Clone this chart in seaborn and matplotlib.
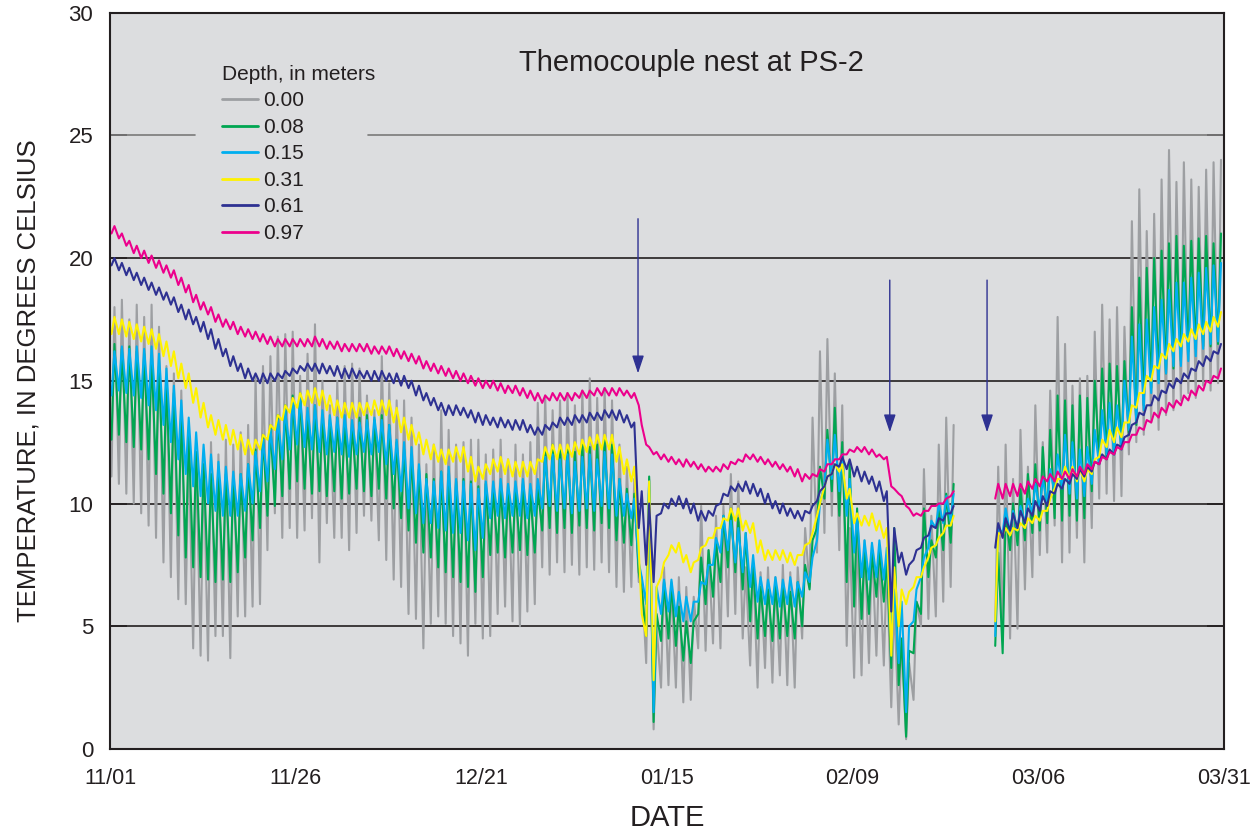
import numpy as np
import pandas as pd
import matplotlib
matplotlib.use("Agg")
import matplotlib.pyplot as plt
import seaborn as sns

nan = np.nan

# Daily minimum (early) and maximum (afternoon) temperatures, deg C,
# one value per day from 11/01 (day 0); NaN = no record.
gray_lo = [
    11.1, 10.8, 10.4, 10.0, 9.6, 9.1, 8.6, 7.6, 7.0, 6.1,
    5.9, 4.1, 3.8, 3.6, 4.6, 4.6, 3.7, 5.4, 5.4, 5.8,
    5.9, 8.1, 9.6, 8.6, 9.0, 8.6, 8.9, 9.4, 7.6, 9.2,
    8.6, 8.6, 8.1, 8.8, 9.5, 9.3, 8.5, 7.7, 6.9, 6.6,
    5.5, 5.3, 4.1, 5.1, 5.4, 5.1, 4.6, 4.3, 3.8, 5.1,
    4.5, 4.6, 5.5, 5.8, 5.2, 5.0, 5.6, 5.9, 7.4, 7.1,
    7.6, 7.2, 7.5, 7.1, 7.4, 7.3, 7.6, 7.2, 6.6, 6.4,
    6.6, 6.8, 3.5, 0.8, 2.5, 2.6, 2.5, 1.9, 2.0, 4.1,
    4.0, 4.3, 4.1, 5.4, 5.5, 4.5, 3.4, 2.5, 3.3, 2.7,
    3.0, 2.6, 2.5, 4.5, 6.6, 8.0, 8.8, 9.5, 8.1, 4.2,
    2.9, 3.0, 3.5, 3.8, 3.4, 1.7, 1.0, 0.4, 2.0, 5.0,
    5.3, 5.4, 6.0, 6.6, nan, nan, nan, nan, nan, 5.0,
    4.8, 4.5, 4.9, 6.5, 7.0, 7.9, 8.0, 9.1, 7.6, 8.0,
    8.6, 7.6, 9.0, 10.2, 10.4, 10.1, 10.3, 12.0, 12.5, 12.8,
    13.3, 13.0, 13.6, 13.8, 14.2, 14.5, 14.3, 14.8, 14.6, 14.9,
]
gray_hi = [
    18.0, 18.3, 17.5, 18.1, 17.6, 18.1, 17.2, 15.6, 15.3, 14.6,
    12.4, 12.1, 11.9, 12.5, 12.0, 12.6, 12.4, 12.9, 13.2, 15.2,
    15.6, 16.0, 16.8, 16.9, 17.0, 15.2, 16.1, 17.3, 15.0, 14.0,
    15.0, 15.6, 15.7, 15.5, 14.4, 13.8, 16.0, 14.9, 14.2, 14.2,
    13.5, 12.4, 11.6, 12.4, 13.8, 13.0, 12.4, 12.5, 12.6, 12.6,
    12.0, 12.2, 12.6, 11.8, 12.4, 12.0, 12.5, 14.1, 14.4, 13.8,
    14.2, 14.5, 14.0, 14.6, 15.1, 14.3, 14.7, 14.2, 12.4, 11.5,
    11.0, 7.0, 11.0, 5.0, 7.4, 6.8, 7.0, 6.6, 6.2, 9.9,
    8.1, 9.5, 9.9, 11.2, 10.9, 7.4, 7.6, 7.2, 7.4, 7.0,
    7.5, 7.2, 7.4, 9.0, 13.5, 16.2, 16.7, 15.3, 14.0, 9.0,
    8.8, 8.5, 8.3, 8.0, 7.6, 6.0, 4.5, 3.5, 6.0, 11.4,
    9.5, 12.4, 13.5, 13.2, nan, nan, nan, nan, nan, 11.5,
    12.4, 11.0, 13.0, 11.5, 14.0, 12.5, 14.6, 17.6, 16.5, 14.8,
    15.1, 15.2, 17.0, 18.1, 17.5, 18.0, 17.2, 21.5, 22.8, 21.1,
    21.8, 23.2, 24.4, 23.1, 23.9, 23.2, 22.9, 23.6, 23.9, 24.0,
]
green_lo = [
    12.6, 12.8, 12.5, 12.3, 12.2, 11.8, 11.2, 10.4, 9.6, 8.7,
    7.8, 7.4, 7.0, 6.9, 6.8, 6.9, 6.8, 7.2, 7.8, 8.5,
    9.0, 9.5, 9.9, 10.3, 10.6, 10.9, 10.6, 10.4, 10.5, 10.3,
    10.5, 10.2, 10.4, 10.6, 10.5, 10.3, 10.6, 10.2, 9.8, 9.4,
    8.9, 8.4, 8.0, 7.8, 7.4, 7.2, 7.0, 6.8, 6.6, 6.4,
    7.0, 7.9, 8.0, 7.8, 8.0, 8.1, 7.9, 8.0, 8.9, 9.0,
    8.8, 9.0, 8.8, 9.1, 9.0, 8.9, 9.2, 9.0, 8.5, 8.4,
    8.3, 7.2, 4.6, 1.1, 4.4, 4.5, 4.2, 3.6, 3.5, 5.5,
    5.9, 6.2, 6.8, 7.4, 7.2, 6.5, 5.2, 4.5, 4.6, 4.4,
    4.5, 4.6, 4.5, 5.0, 6.5, 9.0, 10.2, 10.5, 9.5, 6.8,
    5.8, 5.3, 5.5, 6.2, 6.0, 3.3, 2.6, 0.5, 3.9, 5.5,
    7.0, 7.8, 8.1, 8.4, nan, nan, nan, nan, nan, 4.2,
    3.9, 8.1, 8.3, 8.5, 8.8, 8.9, 9.2, 9.4, 9.3, 9.5,
    9.3, 9.4, 10.5, 11.8, 11.9, 12.0, 12.2, 12.8, 13.2, 14.0,
    14.7, 15.0, 15.3, 15.5, 15.8, 16.2, 16.3, 16.4, 16.4, 16.5,
]
green_hi = [
    16.5, 16.3, 16.4, 16.2, 16.1, 16.0, 15.6, 15.0, 14.5, 13.6,
    12.8, 12.1, 11.6, 11.2, 11.1, 11.2, 11.0, 11.2, 11.6, 12.2,
    12.8, 13.2, 13.6, 14.0, 14.4, 14.5, 13.5, 14.0, 13.6, 13.4,
    13.5, 13.3, 13.2, 13.5, 13.6, 13.4, 13.6, 13.2, 12.5, 12.2,
    12.0, 11.4, 11.2, 11.0, 11.3, 11.2, 10.9, 11.0, 10.9, 10.7,
    10.8, 10.6, 10.7, 10.5, 10.6, 10.8, 10.4, 10.6, 12.2, 12.4,
    12.2, 12.3, 12.1, 12.4, 12.3, 12.4, 12.6, 12.4, 11.0, 10.6,
    10.4, 6.5, 11.1, 5.5, 6.8, 6.7, 5.8, 5.2, 5.2, 7.8,
    8.1, 8.4, 9.5, 9.8, 9.4, 8.8, 7.5, 6.6, 6.5, 6.7,
    6.6, 6.4, 6.8, 7.5, 8.5, 11.5, 13.0, 13.9, 12.5, 11.7,
    9.8, 8.1, 8.0, 8.1, 7.8, 9.0, 4.5, 4.0, 6.0, 9.8,
    8.5, 9.8, 10.4, 10.8, nan, nan, nan, nan, nan, 8.0,
    9.5, 10.0, 10.6, 11.2, 11.6, 12.3, 13.0, 14.4, 14.2, 14.0,
    14.4, 14.3, 15.0, 15.5, 15.7, 15.6, 15.8, 18.0, 19.2, 19.6,
    20.0, 20.3, 20.6, 20.9, 20.5, 20.7, 20.8, 20.9, 20.6, 21.0,
]
cyan_lo = [
    14.4, 14.6, 14.5, 14.4, 14.3, 14.0, 13.8, 13.2, 12.5, 11.8,
    11.2, 10.7, 10.3, 10.0, 9.7, 9.5, 9.5, 9.5, 9.7, 10.0,
    10.5, 10.9, 11.4, 11.8, 12.2, 12.4, 12.3, 12.2, 12.1, 12.0,
    12.1, 12.0, 11.9, 12.0, 12.1, 12.0, 12.1, 11.6, 11.2, 10.5,
    9.8, 9.6, 9.2, 9.2, 9.0, 8.9, 8.8, 8.8, 8.5, 8.1,
    8.6, 9.4, 9.5, 9.4, 9.5, 9.5, 9.4, 9.5, 9.8, 9.9,
    9.7, 9.8, 9.6, 9.7, 9.8, 9.7, 9.9, 9.8, 9.5, 9.5,
    9.4, 7.6, 5.9, 1.5, 5.5, 5.6, 5.4, 5.2, 5.2, 6.0,
    6.7, 7.5, 8.0, 8.1, 7.6, 7.2, 6.6, 6.0, 5.9, 5.9,
    5.8, 5.9, 5.8, 6.2, 6.8, 8.5, 10.8, 11.0, 10.5, 9.5,
    8.0, 7.0, 6.9, 7.0, 6.9, 4.5, 3.5, 1.5, 5.2, 7.0,
    8.2, 9.0, 9.2, 9.3, nan, nan, nan, nan, nan, 4.6,
    8.8, 8.8, 8.9, 9.2, 9.6, 9.8, 10.0, 10.4, 10.6, 10.4,
    10.2, 10.3, 10.8, 11.6, 12.0, 12.0, 12.2, 13.0, 13.3, 13.8,
    14.5, 14.9, 15.3, 15.6, 15.6, 15.8, 16.0, 16.3, 16.5, 16.6,
]
cyan_hi = [
    16.2, 16.4, 16.3, 16.4, 16.3, 16.4, 16.1, 15.5, 14.8, 14.2,
    13.5, 12.9, 12.4, 12.0, 11.7, 11.5, 11.3, 11.2, 11.6, 12.1,
    12.6, 13.0, 13.4, 13.8, 14.2, 14.3, 13.9, 14.0, 13.8, 13.6,
    13.5, 13.6, 13.4, 13.3, 13.4, 13.5, 13.4, 13.2, 12.6, 12.5,
    12.3, 11.6, 11.0, 10.9, 11.3, 11.5, 11.0, 10.9, 10.8, 10.6,
    10.9, 10.9, 11.0, 10.8, 10.9, 11.0, 10.8, 11.0, 11.9, 12.0,
    11.8, 12.0, 11.7, 11.9, 12.0, 11.8, 12.1, 12.0, 11.0, 10.4,
    10.2, 7.0, 10.9, 6.6, 6.9, 6.9, 6.4, 6.2, 6.0, 6.8,
    7.5, 8.6, 9.5, 9.3, 9.0, 8.8, 7.9, 7.0, 6.9, 7.0,
    6.9, 7.0, 6.8, 7.2, 7.8, 10.0, 12.6, 12.8, 12.0, 11.0,
    9.5, 8.5, 8.4, 8.5, 8.2, 6.5, 6.0, 5.0, 6.5, 7.8,
    9.3, 10.0, 10.3, 10.4, nan, nan, nan, nan, nan, 9.0,
    9.8, 9.7, 9.9, 10.2, 10.8, 11.0, 11.4, 12.0, 12.8, 12.5,
    12.2, 12.3, 13.0, 13.8, 14.1, 14.0, 15.0, 16.8, 17.3, 17.5,
    18.0, 18.3, 18.7, 19.0, 19.0, 19.2, 19.4, 19.6, 19.7, 19.8,
]
yellow_lo = [
    16.9, 16.9, 16.8, 16.7, 16.6, 16.5, 16.3, 16.0, 15.6, 15.1,
    14.7, 14.1, 13.5, 13.1, 12.8, 12.6, 12.4, 12.2, 12.0, 12.0,
    12.2, 12.6, 13.0, 13.4, 13.7, 13.9, 14.0, 14.1, 14.0, 13.8,
    13.6, 13.5, 13.5, 13.5, 13.6, 13.6, 13.6, 13.6, 13.3, 12.9,
    12.6, 12.4, 12.0, 11.8, 11.7, 11.6, 11.7, 11.7, 11.3, 10.9,
    11.0, 11.2, 11.3, 11.2, 11.1, 11.1, 11.1, 11.2, 11.7, 11.8,
    11.8, 11.8, 11.9, 12.0, 12.1, 12.2, 12.2, 12.2, 11.7, 11.2,
    10.9, 8.1, 4.6, 2.8, 7.0, 7.9, 8.0, 7.6, 7.2, 7.7,
    8.3, 8.6, 9.0, 9.3, 9.3, 8.9, 8.8, 8.0, 7.7, 7.7,
    7.7, 7.6, 7.5, 7.9, 8.4, 9.5, 10.7, 11.2, 11.3, 10.2,
    9.2, 9.1, 9.1, 8.9, 8.6, 3.8, 5.0, 5.9, 6.6, 7.0,
    7.8, 8.3, 8.8, 9.1, nan, nan, nan, nan, nan, 5.2,
    8.7, 8.7, 8.9, 9.0, 9.2, 9.3, 9.7, 10.6, 11.0, 11.0,
    10.9, 10.9, 11.2, 11.9, 12.3, 12.5, 12.7, 13.3, 13.9, 14.5,
    15.0, 15.5, 15.9, 16.2, 16.4, 16.6, 16.7, 16.9, 17.0, 17.2,
]
yellow_hi = [
    17.6, 17.5, 17.4, 17.3, 17.2, 17.1, 16.9, 16.6, 16.2, 15.7,
    15.3, 14.7, 14.1, 13.6, 13.4, 13.2, 13.0, 12.8, 12.6, 12.6,
    12.8, 13.2, 13.6, 14.0, 14.3, 14.5, 14.6, 14.7, 14.6, 14.4,
    14.2, 14.1, 14.1, 14.1, 14.1, 14.2, 14.2, 14.2, 13.9, 13.5,
    13.2, 12.9, 12.6, 12.4, 12.2, 12.2, 12.3, 12.3, 11.9, 11.5,
    11.6, 11.8, 11.9, 11.8, 11.7, 11.7, 11.7, 11.8, 12.3, 12.4,
    12.4, 12.4, 12.5, 12.6, 12.7, 12.8, 12.8, 12.8, 12.3, 11.8,
    11.5, 5.5, 10.9, 6.6, 7.6, 8.3, 8.4, 7.9, 7.6, 8.2,
    8.6, 9.0, 9.4, 9.8, 9.8, 9.3, 9.2, 8.5, 8.1, 8.1,
    8.1, 8.0, 7.9, 8.3, 8.8, 10.0, 11.1, 11.6, 11.6, 10.6,
    9.6, 9.5, 9.6, 9.3, 9.0, 7.4, 6.5, 6.4, 7.0, 7.4,
    8.2, 8.6, 9.1, 9.5, nan, nan, nan, nan, nan, 8.8,
    9.0, 9.0, 9.2, 9.4, 9.5, 9.7, 10.2, 11.0, 11.5, 11.5,
    11.4, 11.4, 11.8, 12.6, 13.0, 13.1, 13.3, 14.0, 14.5, 15.2,
    15.6, 16.1, 16.5, 16.7, 16.9, 17.1, 17.3, 17.4, 17.6, 17.8,
]
navy_lo = [
    19.7, 19.5, 19.3, 19.1, 18.9, 18.7, 18.5, 18.3, 18.1, 17.8,
    17.5, 17.3, 17.0, 16.7, 16.3, 16.0, 15.6, 15.4, 15.1, 15.0,
    14.9, 14.9, 15.0, 15.1, 15.2, 15.3, 15.4, 15.4, 15.3, 15.3,
    15.2, 15.1, 15.1, 15.1, 15.1, 15.0, 15.0, 15.0, 14.9, 14.8,
    14.7, 14.4, 14.2, 14.0, 13.8, 13.6, 13.6, 13.6, 13.5, 13.3,
    13.2, 13.2, 13.1, 13.1, 13.0, 13.0, 12.9, 12.8, 12.8, 13.0,
    13.1, 13.2, 13.2, 13.3, 13.3, 13.4, 13.4, 13.5, 13.4, 13.3,
    13.1, 9.0, 7.5, 6.8, 9.6, 9.8, 9.9, 9.8, 9.6, 9.3,
    9.3, 9.5, 10.0, 10.3, 10.5, 10.5, 10.4, 10.3, 10.0, 9.8,
    9.6, 9.5, 9.4, 9.3, 9.6, 10.1, 10.7, 11.2, 11.5, 11.4,
    11.1, 10.9, 10.8, 10.5, 10.1, 5.6, 7.6, 7.1, 7.7, 8.2,
    8.7, 9.0, 9.3, 9.6, nan, nan, nan, nan, nan, 8.2,
    8.6, 8.9, 9.0, 9.2, 9.5, 9.7, 9.9, 10.4, 10.6, 10.8,
    11.0, 11.1, 11.3, 11.6, 11.8, 12.0, 12.3, 12.8, 13.3, 13.6,
    14.0, 14.2, 14.5, 14.7, 14.9, 15.1, 15.4, 15.6, 15.8, 16.1,
]
navy_hi = [
    20.0, 19.8, 19.6, 19.4, 19.2, 19.0, 18.8, 18.6, 18.4, 18.1,
    17.9, 17.6, 17.4, 17.1, 16.7, 16.3, 16.0, 15.7, 15.5, 15.3,
    15.3, 15.3, 15.3, 15.4, 15.5, 15.6, 15.7, 15.7, 15.7, 15.6,
    15.6, 15.5, 15.5, 15.4, 15.4, 15.4, 15.4, 15.3, 15.3, 15.2,
    15.0, 14.8, 14.5, 14.3, 14.1, 14.0, 14.0, 13.9, 13.8, 13.7,
    13.6, 13.5, 13.5, 13.4, 13.4, 13.4, 13.2, 13.1, 13.2, 13.3,
    13.5, 13.5, 13.6, 13.6, 13.7, 13.7, 13.8, 13.8, 13.8, 13.6,
    13.3, 10.5, 10.0, 9.5, 10.0, 10.2, 10.3, 10.2, 10.0, 9.7,
    9.7, 9.9, 10.4, 10.7, 10.8, 10.9, 10.8, 10.6, 10.4, 10.1,
    10.0, 9.8, 9.7, 9.7, 9.9, 10.5, 11.1, 11.6, 11.9, 11.8,
    11.5, 11.3, 11.1, 10.9, 10.5, 9.0, 8.0, 7.5, 8.1, 8.6,
    9.1, 9.4, 9.6, 9.9, nan, nan, nan, nan, nan, 9.2,
    9.4, 9.6, 9.7, 9.8, 10.1, 10.3, 10.5, 10.8, 11.0, 11.2,
    11.4, 11.5, 11.7, 12.0, 12.2, 12.4, 12.7, 13.2, 13.7, 14.0,
    14.4, 14.6, 14.9, 15.1, 15.3, 15.5, 15.8, 16.0, 16.2, 16.5,
]
pink_lo = [
    21.0, 20.8, 20.5, 20.2, 20.0, 19.8, 19.6, 19.4, 19.2, 18.9,
    18.6, 18.2, 17.9, 17.7, 17.4, 17.2, 17.1, 16.9, 16.8, 16.7,
    16.6, 16.5, 16.4, 16.4, 16.4, 16.4, 16.4, 16.4, 16.4, 16.3,
    16.3, 16.2, 16.2, 16.2, 16.2, 16.1, 16.1, 16.1, 16.0, 15.9,
    15.8, 15.7, 15.5, 15.4, 15.3, 15.2, 15.1, 15.0, 14.9, 14.8,
    14.7, 14.7, 14.6, 14.5, 14.5, 14.4, 14.3, 14.2, 14.1, 14.2,
    14.2, 14.2, 14.2, 14.3, 14.3, 14.4, 14.4, 14.4, 14.4, 14.4,
    14.3, 14.0, 12.4, 12.0, 11.8, 11.7, 11.6, 11.5, 11.5, 11.4,
    11.3, 11.3, 11.3, 11.4, 11.6, 11.7, 11.8, 11.7, 11.6, 11.5,
    11.4, 11.3, 11.1, 10.9, 11.0, 11.1, 11.3, 11.6, 11.8, 12.0,
    12.1, 12.1, 12.0, 11.9, 11.8, 10.7, 10.4, 9.9, 9.5, 9.5,
    9.7, 9.9, 10.0, 10.3, nan, nan, nan, nan, nan, 10.2,
    10.2, 10.3, 10.3, 10.4, 10.6, 10.7, 10.9, 10.9, 11.0, 11.0,
    11.1, 11.2, 11.4, 11.6, 11.8, 12.0, 12.2, 12.5, 12.8, 13.0,
    13.3, 13.5, 13.7, 13.9, 14.0, 14.2, 14.4, 14.6, 14.9, 15.1,
]
pink_hi = [
    21.3, 21.0, 20.7, 20.5, 20.3, 20.1, 19.9, 19.7, 19.5, 19.2,
    18.9, 18.5, 18.2, 18.0, 17.7, 17.5, 17.4, 17.2, 17.1, 17.0,
    16.9, 16.8, 16.7, 16.7, 16.7, 16.7, 16.7, 16.8, 16.7, 16.6,
    16.6, 16.5, 16.5, 16.5, 16.5, 16.4, 16.4, 16.4, 16.3, 16.2,
    16.1, 16.0, 15.8, 15.7, 15.6, 15.5, 15.4, 15.3, 15.2, 15.1,
    15.0, 15.0, 14.9, 14.8, 14.8, 14.7, 14.6, 14.5, 14.4, 14.5,
    14.5, 14.5, 14.5, 14.6, 14.6, 14.7, 14.7, 14.7, 14.7, 14.6,
    14.5, 13.2, 12.3, 12.1, 12.0, 11.9, 11.8, 11.8, 11.7, 11.6,
    11.5, 11.5, 11.6, 11.7, 11.8, 12.0, 12.0, 11.9, 11.8, 11.7,
    11.6, 11.5, 11.4, 11.2, 11.2, 11.4, 11.6, 11.8, 12.0, 12.2,
    12.3, 12.3, 12.2, 12.0, 11.9, 10.6, 10.3, 9.8, 9.6, 9.7,
    9.9, 10.0, 10.2, 10.5, nan, nan, nan, nan, nan, 10.8,
    10.8, 10.8, 10.8, 10.9, 11.0, 11.1, 11.2, 11.3, 11.3, 11.4,
    11.5, 11.6, 11.7, 11.9, 12.1, 12.3, 12.5, 12.8, 13.1, 13.4,
    13.7, 13.9, 14.1, 14.2, 14.4, 14.6, 14.8, 15.0, 15.2, 15.5,
]

depths = ["0.00", "0.08", "0.15", "0.31", "0.61", "0.97"]
colors = ["#9D9FA2", "#00A651", "#00AEEF", "#FFF200", "#2E3192", "#EC008C"]
tick_days = [0, 25, 50, 75, 100, 125, 150]
tick_labels = ["11/01", "11/26", "12/21", "01/15", "02/09", "03/06", "03/31"]
marker_days = [71.1, 105.0, 118.1]

series = {
    "0.00": (gray_lo, gray_hi),
    "0.08": (green_lo, green_hi),
    "0.15": (cyan_lo, cyan_hi),
    "0.31": (yellow_lo, yellow_hi),
    "0.61": (navy_lo, navy_hi),
    "0.97": (pink_lo, pink_hi),
}

# Long-form table: morning minimum and afternoon maximum per day,
# split into separate segments wherever the record is missing.
frames = []
for depth, (lo, hi) in series.items():
    lo = np.asarray(lo, float)
    hi = np.asarray(hi, float)
    day = np.arange(len(lo))
    t = np.column_stack([day + 0.2, day + 0.6]).ravel()
    v = np.column_stack([lo, hi]).ravel()
    ok = ~np.isnan(v)
    seg = np.cumsum(~ok)
    frames.append(pd.DataFrame({"day": t[ok], "temp": v[ok],
                                "seg": seg[ok], "depth": depth}))
data = pd.concat(frames, ignore_index=True)

sns.set_theme(style="white")
FONT = ["Liberation Sans", "DejaVu Sans"]
plt.rcParams["font.family"] = FONT
ink = "#231F20"
bg = "#DCDDDF"

fig = plt.figure(figsize=(12.6, 8.35), dpi=100, facecolor="white")
ax = fig.add_axes([0.0873, 0.103, 0.8841, 0.882])
ax.set_facecolor(bg)

# horizontal reference lines
for yv in [5, 10, 15, 20]:
    ax.axhline(yv, color=ink, lw=1.2, zorder=1)
ax.axhline(25, xmin=0, xmax=11.4 / 150, color="#7A7A7A", lw=1.2, zorder=1)
ax.axhline(25, xmin=34.7 / 150, xmax=1, color="#7A7A7A", lw=1.2, zorder=1)

sns.lineplot(data=data, x="day", y="temp", hue="depth", hue_order=depths,
             palette=colors, units="seg", estimator=None, lw=1.5,
             ax=ax, legend=True, zorder=2)

# arrows marking events
for i, xd in enumerate(marker_days):
    top, tip = (21.6, 15.3) if i == 0 else (19.1, 12.9)
    ax.annotate("", xy=(xd, tip), xytext=(xd, top),
                arrowprops=dict(arrowstyle="-|>,head_length=0.9,head_width=0.3",
                                color="#2E3192", lw=1.0, shrinkA=0, shrinkB=0))

ax.set_xlim(0, 150)
ax.set_ylim(0, 30)
ax.set_xticks(tick_days)
ax.set_xticklabels(tick_labels)
ax.set_yticks(range(0, 31, 5))
ax.tick_params(axis="x", direction="in", length=12, width=1.2, color=ink,
               labelsize=15.5, pad=14, labelcolor=ink)
ax.tick_params(axis="y", direction="in", length=12, width=1.2, color=ink,
               labelsize=16, pad=12, labelcolor=ink, right=True, left=True)
for lab in ax.get_xticklabels() + ax.get_yticklabels():
    lab.set_family(FONT)

for side in ["left", "bottom", "right", "top"]:
    ax.spines[side].set_visible(True)
    ax.spines[side].set_color(ink)
    ax.spines[side].set_linewidth(1.5)

ax.set_xlabel("DATE", fontsize=21, color=ink, family=FONT)
ax.set_ylabel("TEMPERATURE, IN DEGREES CELSIUS", fontsize=18.5, color=ink,
              family=FONT)
ax.xaxis.set_label_coords(0.5, -0.075)
ax.yaxis.set_label_coords(-0.062, 0.5)

ax.text(0.522, 0.931, "Themocouple nest at PS-2", transform=ax.transAxes,
        ha="center", va="center", fontsize=21, color=ink, family=FONT)

handles, labels = ax.get_legend_handles_labels()
leg = ax.legend(handles, labels, title="Depth, in meters", loc="upper left",
                bbox_to_anchor=(0.0915, 0.943), frameon=False, fontsize=15,
                title_fontsize=15, handlelength=1.7, handletextpad=0.25,
                labelspacing=0.36, borderpad=0, alignment="left")
for h in leg.get_lines():
    h.set_linewidth(2.0)
for t in leg.get_texts():
    t.set_color(ink)
leg.get_title().set_color(ink)

fig.savefig("out.png", dpi=100, facecolor="white")
